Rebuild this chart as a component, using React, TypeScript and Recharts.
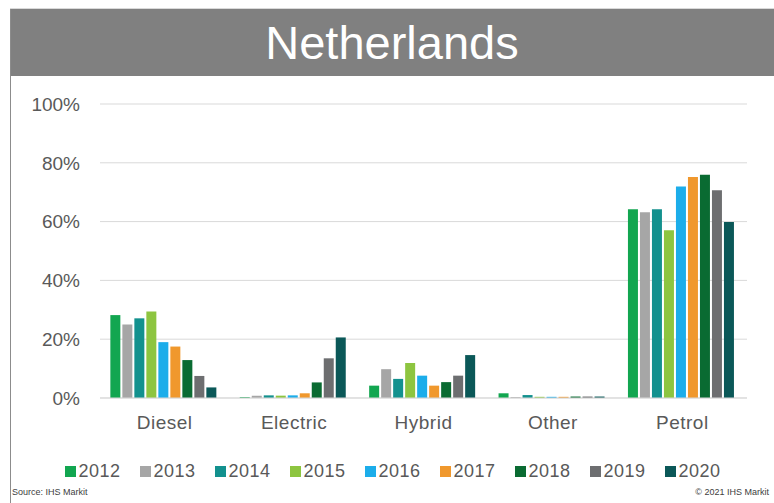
import React from 'react';
import { BarChart, Bar, XAxis, YAxis, CartesianGrid, Legend } from 'recharts';

const categories = ['Diesel', 'Electric', 'Hybrid', 'Other', 'Petrol'];
const years = ['2012', '2013', '2014', '2015', '2016', '2017', '2018', '2019', '2020'];
const colors = ['#12a650', '#a6a6a6', '#13918e', '#8dc540', '#1cadea', '#f0982d', '#0a6b32', '#6d6e70', '#0b5858'];

// share per year, in category order
const y2012 = [28.2, 0.3, 4.2, 1.6, 64.2];
const y2013 = [25.0, 0.8, 9.8, 0.3, 63.2];
const y2014 = [27.1, 0.9, 6.5, 1.0, 64.2];
const y2015 = [29.4, 0.8, 11.9, 0.4, 57.1];
const y2016 = [19.0, 0.9, 7.6, 0.4, 71.9];
const y2017 = [17.5, 1.6, 4.2, 0.4, 75.2];
const y2018 = [12.9, 5.3, 5.4, 0.5, 75.9];
const y2019 = [7.5, 13.5, 7.6, 0.5, 70.7];
const y2020 = [3.6, 20.6, 14.6, 0.5, 59.9];

const yTicks = [0, 20, 40, 60, 80, 100];

const series = [y2012, y2013, y2014, y2015, y2016, y2017, y2018, y2019, y2020];
const data = categories.map((c, i) => {
  const row: any = { name: c };
  years.forEach((y, j) => { row[y] = series[j][i]; });
  return row;
});

const font = '"Liberation Sans", Arial, sans-serif';

const LegendContent = () => (
  <div style={{ display: 'flex', justifyContent: 'center', paddingLeft: 30, fontFamily: font, fontSize: 18, color: '#595959' }}>
    {years.map((y, i) => (
      <div key={y} style={{ display: 'flex', alignItems: 'center', width: 75 }}>
        <span style={{ display: 'inline-block', width: 11, height: 11, background: colors[i], marginRight: 3 }} />
        <span style={{ letterSpacing: 0.5 }}>{y}</span>
      </div>
    ))}
  </div>
);

export default function App() {
  return (
    <div style={{ position: 'absolute', left: 0, top: 0, width: 774, height: 503, background: '#fff', fontFamily: font }}>
      <div style={{ position: 'absolute', left: 10, top: 8, width: 764, height: 1, background: '#d9d9d9' }} />
      <div style={{ position: 'absolute', left: 10, top: 9, width: 764, height: 67, background: '#808080', color: '#fff', fontSize: 47, textAlign: 'center', lineHeight: '67px' }}>
        Netherlands
      </div>
      <div style={{ position: 'absolute', left: 10, top: 9, width: 1, height: 494, background: '#8c8c8c' }} />
      <div style={{ position: 'absolute', left: 0, top: 0 }}>
        <BarChart width={774} height={503} data={data} margin={{ top: 104, right: 27, bottom: 75, left: 0 }} barCategoryGap="8%" barGap={2}>
          <CartesianGrid stroke="#d9d9d9" vertical={false} />
          <XAxis dataKey="name" axisLine={{ stroke: '#d9d9d9' }} tickLine={false} height={30} tickMargin={12}
            tick={{ fill: '#595959', fontSize: 19, fontFamily: font, letterSpacing: 0.5 }} />
          <YAxis domain={[0, 100]} ticks={yTicks} width={100} axisLine={false} tickLine={false} tickMargin={14}
            tickFormatter={(v) => `${v}%`} tick={{ fill: '#595959', fontSize: 19, fontFamily: font }} />
          <Legend layout="horizontal" verticalAlign="middle" align="center" content={LegendContent}
            wrapperStyle={{ top: 461, left: 0, width: 774 }} />
          {years.map((y, i) => (
            <Bar key={y} dataKey={y} fill={colors[i]} isAnimationActive={false} />
          ))}
        </BarChart>
      </div>
      <div style={{ position: 'absolute', left: 12, top: 487, fontSize: 9, color: '#404040' }}>Source: IHS Markit</div>
      <div style={{ position: 'absolute', right: 5, top: 487, fontSize: 9, color: '#404040' }}>© 2021 IHS Markit</div>
    </div>
  );
}
